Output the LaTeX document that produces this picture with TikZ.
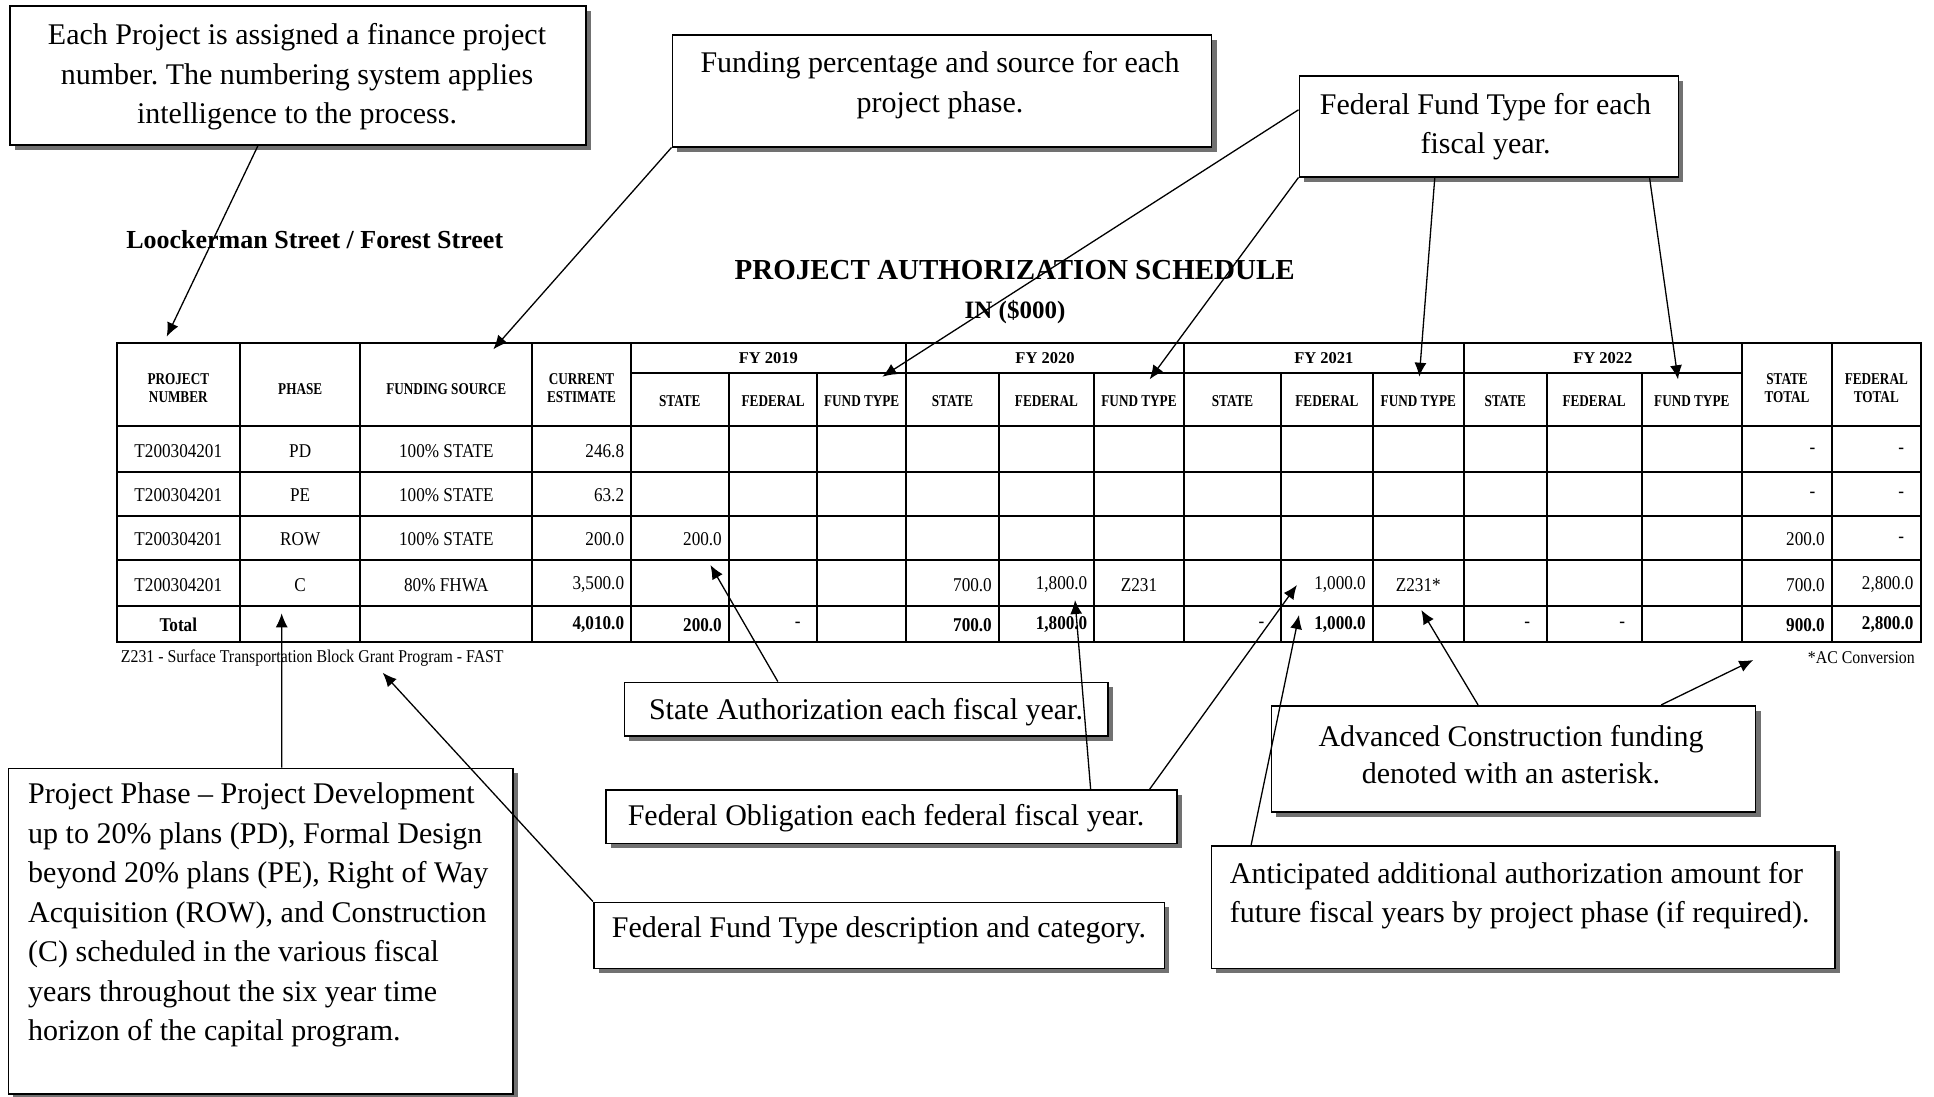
\documentclass[tikz,border=0pt]{standalone}
\usepackage{fontspec}
\setmainfont{Liberation Serif}
\newfontfamily\hfont[FakeStretch=0.8]{Liberation Serif}
\newfontfamily\dfont[FakeStretch=0.88]{Liberation Serif}
\usetikzlibrary{arrows.meta,shadows,fit,calc}
\frenchspacing
\begin{document}
\begin{tikzpicture}[x=1pt,y=-1pt,
  cbox/.style={draw=black, line width=1.6pt, fill=white, inner sep=0pt,
    drop shadow={shadow xshift=5pt, shadow yshift=-5pt, fill=black!65, opacity=0.85}},
  btxt/.style={font=\fontsize{30}{39.5}\selectfont, align=center, inner sep=0pt},
  arr/.style={line width=1.3pt, -{Latex[length=14pt,width=12pt]}},
  grid/.style={line width=1.8pt, line cap=rect},
  hd/.style={font=\hfont\bfseries\fontsize{16.5}{17.5}\selectfont, align=center, inner sep=0pt},
  fy/.style={font=\bfseries\fontsize{16.5}{17.5}\selectfont, inner sep=0pt},
  dt/.style={font=\dfont\fontsize{19.5}{20}\selectfont, inner sep=0pt},
  dtb/.style={font=\dfont\bfseries\fontsize{19.5}{20}\selectfont, inner sep=0pt},
  ft/.style={font=\dfont\fontsize{18}{20}\selectfont, inner sep=0pt},
]
\fill[white] (0,0) rectangle (1934,1096);
\useasboundingbox (0,0) rectangle (1934,1096);

% ---------- callout boxes ----------
\node[cbox, fit={(9.8,6)(585.7,145)}] (b1) {};
\node[btxt] (t1) at (297,76.7) {Each Project is assigned a finance project\\number. The numbering system applies\\intelligence to the process.};

\node[cbox, fit={(672.3,35)(1211.6,146.7)}] (b2) {};
\node[btxt] (t2) at (940,85) {Funding percentage and source for each\\project phase.};

\node[cbox, fit={(1299.3,76)(1678.4,176.7)}] (b3) {};
\node[btxt] (t3) at (1485.5,126.7) {Federal Fund Type for each\\fiscal year.};

\node[cbox, fit={(624.4,682.3)(1107.7,736)}] (bsa) {};
\node[btxt] (tsa) at (866,711.7) {State Authorization each fiscal year.};

\node[cbox, fit={(605.7,790)(1176.9,843.3)}] (bfo) {};
\node[btxt] (tfo) at (886,818.3) {Federal Obligation each federal fiscal year.};

\node[cbox, fit={(593.7,902.3)(1164.4,968.3)}] (bfd) {};
\node[btxt] (tfd) at (879,930) {Federal Fund Type description and category.};

\node[cbox, fit={(8.3,768.3)(512.7,1094)}] (bpp) {};
\node[btxt, align=left, anchor=west] (tpp) at (28,915) {Project Phase – Project Development\\up to 20\% plans (PD), Formal Design\\beyond 20\% plans (PE), Right of Way\\Acquisition (ROW), and Construction\\(C) scheduled in the various fiscal\\years throughout the six year time\\horizon of the capital program.};

\node[cbox, fit={(1271.4,705.7)(1755.6,811.7)}] (bac) {};
\node[btxt, font=\fontsize{30}{37}\selectfont] (tac) at (1511,754.5) {Advanced Construction funding\\denoted with an asterisk.};

\node[cbox, fit={(1211.3,845.7)(1835,968.3)}] (ban) {};
\node[btxt, align=left, anchor=west] (tan) at (1229.7,895.5) {Anticipated additional authorization amount for\\future fiscal years by project phase (if required).};

% ---------- titles ----------
\node[font=\bfseries\fontsize{26}{30}\selectfont, inner sep=0pt] (street) at (314.7,240) {Loockerman Street / Forest Street};
\node[font=\bfseries\fontsize{29}{32}\selectfont, inner sep=0pt] (title) at (1014.7,270) {PROJECT AUTHORIZATION SCHEDULE};
\node[font=\bfseries\fontsize{25}{30}\selectfont, inner sep=0pt] (unit) at (1015,311.7) {IN (\$000)};

% ---------- table grid ----------
\foreach \x in {116.6,240,360.3,532.3,630.6,906,1184,1463.7,1741.9,1832,1920.6}
  \draw[grid] (\x,342.7) -- (\x,642.3);
\foreach \x in {729,817.3,999,1094,1281,1372.8,1546.6,1641.6}
  \draw[grid] (\x,372.7) -- (\x,642.3);
\foreach \y in {342.7,426,471.7,516,560,606,642.3}
  \draw[grid] (116.6,\y) -- (1920.6,\y);
\draw[grid] (630.6,372.7) -- (1741.9,372.7);

% ---------- header ----------
\node[hd] (hpn) at (178.3,388) {PROJECT\\NUMBER};
\node[hd] (hph) at (300.2,389) {PHASE};
\node[hd] (hfs) at (446.3,389) {FUNDING SOURCE};
\node[hd] (hce) at (581.5,388) {CURRENT\\ESTIMATE};
\node[hd] (hst) at (1787,388) {STATE\\TOTAL};
\node[hd] (hft) at (1876.3,388) {FEDERAL\\TOTAL};
\foreach \c/\yr in {768.3/2019,1045/2020,1323.9/2021,1602.8/2022}
  \node[fy] (fy\yr) at (\c,358) {FY \yr};
\foreach \a/\b/\c/\k in {679.8/773.2/861.7/1,952.5/1046.5/1139/2,1232.5/1326.9/1418.3/3,1505.2/1594.1/1691.8/4}{
  \node[hd] (hs\k) at (\a,401) {STATE};
  \node[hd] (hf\k) at (\b,401) {FEDERAL};
  \node[hd] (ht\k) at (\c,401) {FUND TYPE};
}

% ---------- rows ----------
\node[dt] (r1pn) at (178.3,451) {T200304201};
\node[dt] (r1ph) at (300.2,451) {PD};
\node[dt] (r1fs) at (446.3,451) {100\% STATE};
\node[dt,anchor=east] (r1ce) at (624.3,451) {246.8};
\node[dt] (r1st) at (1812.5,451) {-};
\node[dt] (r1ft) at (1901.1,451) {-};

\node[dt] (r2pn) at (178.3,495) {T200304201};
\node[dt] (r2ph) at (300.2,495) {PE};
\node[dt] (r2fs) at (446.3,495) {100\% STATE};
\node[dt,anchor=east] (r2ce) at (624.3,495) {63.2};
\node[dt] (r2st) at (1812.5,495) {-};
\node[dt] (r2ft) at (1901.1,495) {-};

\node[dt] (r3pn) at (178.3,539.5) {T200304201};
\node[dt] (r3ph) at (300.2,539.5) {ROW};
\node[dt] (r3fs) at (446.3,539.5) {100\% STATE};
\node[dt,anchor=east] (r3ce) at (624.3,539.5) {200.0};
\node[dt,anchor=east] (r3s19) at (722,539.5) {200.0};
\node[dt,anchor=east] (r3st) at (1825,539.5) {200.0};
\node[dt] (r3ft) at (1901.1,539.5) {-};

\node[dt] (r4pn) at (178.3,585) {T200304201};
\node[dt] (r4ph) at (300.2,585) {C};
\node[dt] (r4fs) at (446.3,585) {80\% FHWA};
\node[dt,anchor=east] (r4ce) at (624.3,585) {3,500.0};
\node[dt,anchor=east] (r4s20) at (992,585) {700.0};
\node[dt,anchor=east] (r4f20) at (1087.5,585) {1,800.0};
\node[dt] (r4t20) at (1139,585) {Z231};
\node[dt,anchor=east] (r4f21) at (1366,585) {1,000.0};
\node[dt] (r4t21) at (1418.3,585) {Z231*};
\node[dt,anchor=east] (r4st) at (1825,585) {700.0};
\node[dt,anchor=east] (r4ft) at (1913.6,585) {2,800.0};

\node[dtb] (tot) at (178.3,625) {Total};
\node[dtb,anchor=east] (tce) at (624.3,625) {4,010.0};
\node[dtb,anchor=east] (ts19) at (722,625) {200.0};
\node[dt] (tf19) at (797.8,625) {-};
\node[dtb,anchor=east] (ts20) at (992,625) {700.0};
\node[dtb,anchor=east] (tf20) at (1087.5,625) {1,800.0};
\node[dt] (ts21) at (1261.5,625) {-};
\node[dtb,anchor=east] (tf21) at (1366,625) {1,000.0};
\node[dt] (ts22) at (1527.1,625) {-};
\node[dt] (tf22) at (1622.1,625) {-};
\node[dtb,anchor=east] (tst) at (1825,625) {900.0};
\node[dtb,anchor=east] (tft) at (1913.6,625) {2,800.0};

\node[ft,anchor=west] (foot) at (120.7,658) {Z231 - Surface Transportation Block Grant Program - FAST};
\node[ft,anchor=east] (acc) at (1915,658) {*AC Conversion};

% ---------- arrow targets ----------
\coordinate (tA) at (166.7,336.7);
\coordinate (tB) at (493.3,349.3);
\coordinate (tC) at (882.4,376.7);
\coordinate (tD) at (1149.7,379.3);
\coordinate (tE) at (1419.3,376.7);
\coordinate (tF) at (1678,379.3);
\coordinate (tG) at (710.4,565);
\coordinate (tH) at (1075,600);
\coordinate (tI) at (1296.9,585);
\coordinate (tJ) at (1299,615);
\coordinate (tK) at (1421.3,610);
\coordinate (tL) at (1753.3,660);
\coordinate (tM) at (382.7,672.7);
\coordinate (tN) at (281.7,613.3);

% ---------- connectors ----------
\draw[arr] ($(b1.south west)!0.431!(b1.south east)$) -- (tA);
\draw[arr] (b2.south west) -- (tB);
\draw[arr] ($(b3.north west)!0.338!(b3.south west)$) -- (tC);
\draw[arr] (b3.south west) -- (tD);
\draw[arr] ($(b3.south west)!0.358!(b3.south east)$) -- (tE);
\draw[arr] ($(b3.south west)!0.922!(b3.south east)$) -- (tF);
\draw[arr] ($(bsa.north west)!0.318!(bsa.north east)$) -- (tG);
\draw[arr] ($(bfo.north west)!0.848!(bfo.north east)$) -- (tH);
\draw[arr] ($(bfo.north west)!0.951!(bfo.north east)$) -- (tI);
\draw[arr] ($(ban.north west)!0.065!(ban.north east)$) -- (tJ);
\draw[arr] ($(bac.north west)!0.427!(bac.north east)$) -- (tK);
\draw[arr] ($(bac.north west)!0.804!(bac.north east)$) -- (tL);
\draw[arr] (bfd.north west) -- (tM);
\draw[arr] ($(bpp.north west)!0.542!(bpp.north east)$) -- (tN);
\end{tikzpicture}
\end{document}
